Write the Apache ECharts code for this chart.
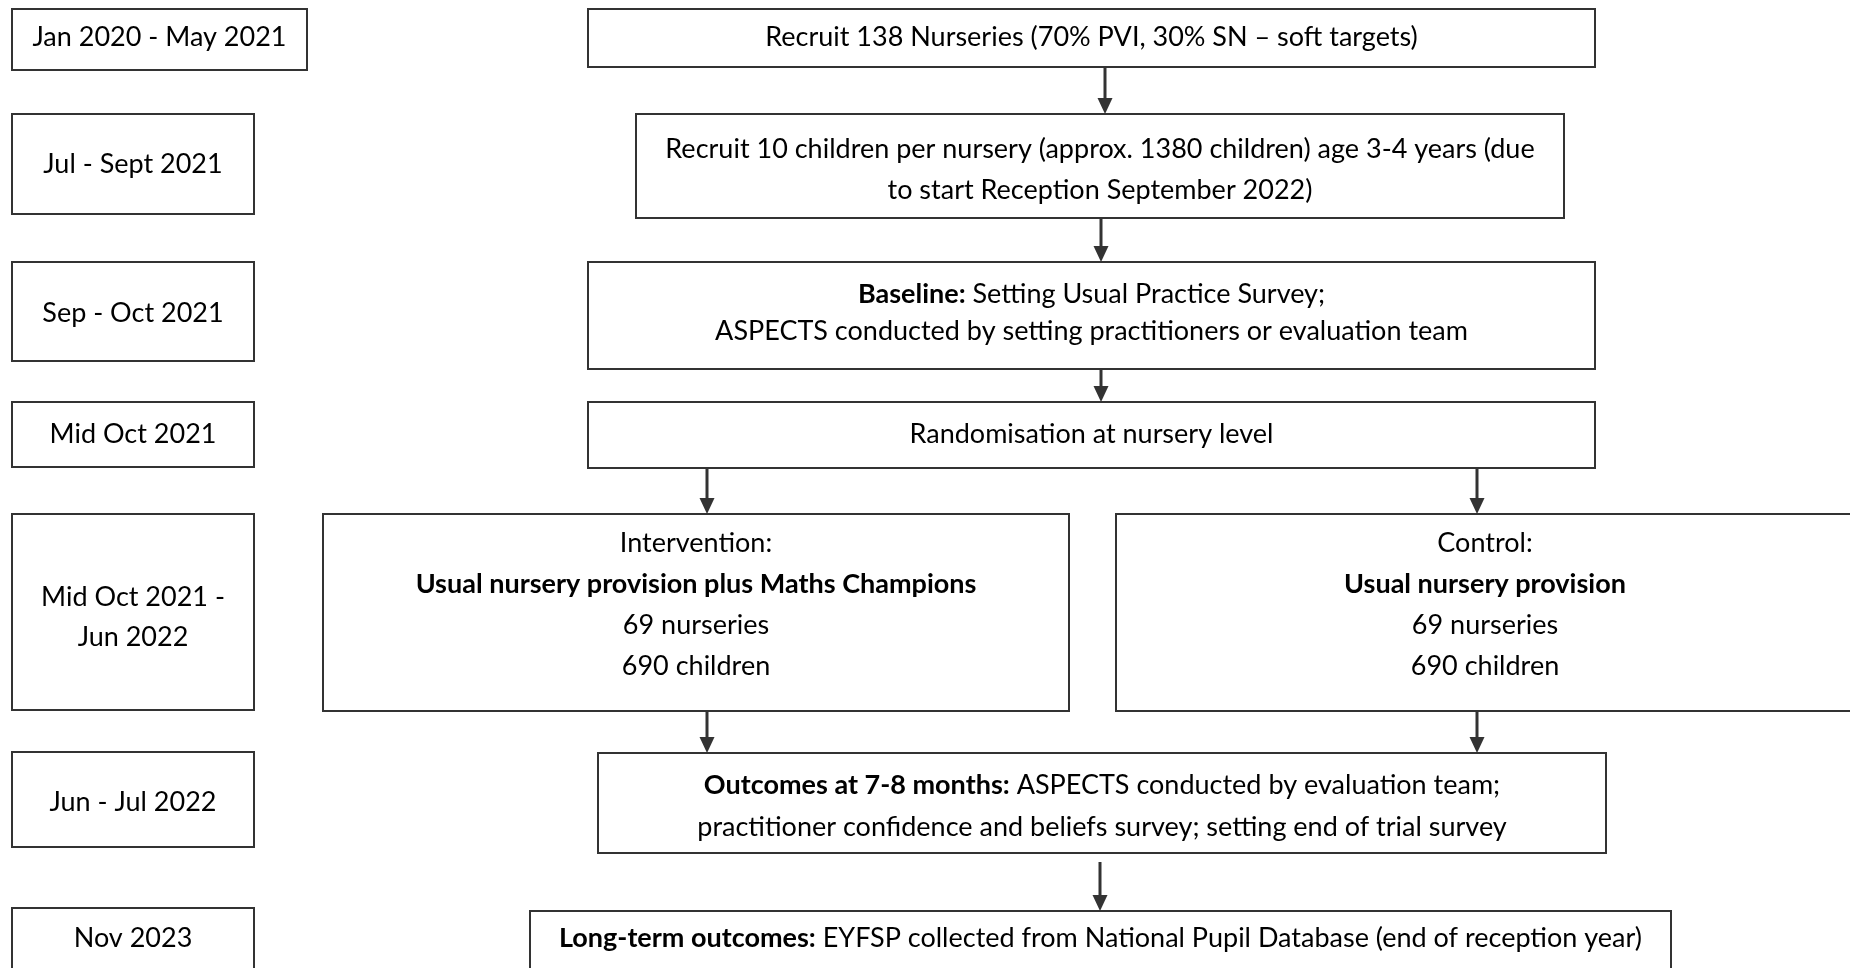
<!DOCTYPE html>
<html>
<head>
<meta charset="utf-8">
<script src="https://cdn.jsdelivr.net/npm/echarts@6/dist/echarts.min.js"></script>
<style>
html, body { margin: 0; padding: 0; background: #fff; }
#chart { width: 1850px; height: 968px; }
</style>
</head>
<body>
<div id="chart"></div>
<script>
// timeline labels (left column)
var periodLabels = [
    'Jan 2020 - May 2021',
    'Jul - Sept 2021',
    'Sep - Oct 2021',
    'Mid Oct 2021',
    'Mid Oct 2021 -\nJun 2022',
    'Jun - Jul 2022',
    'Nov 2023'
];

// flow steps ({b|...} = bold part)
var stepLabels = [
    'Recruit 138 Nurseries (70% PVI, 30% SN – soft targets)',
    'Recruit 10 children per nursery (approx. 1380 children) age 3-4 years (due\nto start Reception September 2022)',
    '{b|Baseline:} Setting Usual Practice Survey;\nASPECTS conducted by setting practitioners or evaluation team',
    'Randomisation at nursery level',
    'Intervention:\n{b|Usual nursery provision plus Maths Champions}\n69 nurseries\n690 children',
    'Control:\n{b|Usual nursery provision}\n69 nurseries\n690 children',
    '{b|Outcomes at 7-8 months:} ASPECTS conducted by evaluation team;\npractitioner confidence and beliefs survey; setting end of trial survey',
    '{b|Long-term outcomes:} EYFSP collected from National Pupil Database (end of reception year)'
];

// layout: [x0, y0, x1, y1, textY, lineHeight] in page pixels
var periodBoxes = [
    [12, 9, 307, 70, 37, 40],
    [12, 114, 254, 214, 164, 40],
    [12, 262, 254, 361, 313, 40],
    [12, 402, 254, 467, 434, 40],
    [12, 514, 254, 710, 617, 40],
    [12, 752, 254, 847, 802, 40],
    [12, 908, 254, 970, 938, 40]
];
var stepBoxes = [
    [588, 9, 1595, 67, 37, 41],
    [636, 114, 1564, 218, 170, 41],
    [588, 262, 1595, 369, 313, 37],
    [588, 402, 1595, 468, 434, 41],
    [323, 514, 1069, 711, 605, 41],
    [1116, 514, 1854, 711, 605, 41],
    [598, 753, 1606, 853, 806, 42],
    [530, 911, 1671, 970, 938, 41]
];
// arrows: [x, yStart, yEnd]
var arrows = [
    [1105, 67, 114],
    [1101, 218, 262],
    [1101, 369, 402],
    [707, 468, 514],
    [1477, 468, 514],
    [707, 711, 753],
    [1477, 711, 753],
    [1100, 862, 911]
];

var FONT = 'Lato';
var FONT_SIZE = 27;
var LINE = '#333';

function boxData(boxes) {
    var out = [];
    for (var i = 0; i < boxes.length; i++) {
        out.push(boxes[i].concat([i]));
    }
    return out;
}

function renderBox(labels) {
    return function (params, api) {
        var p0 = api.coord([api.value(0), api.value(1)]);
        var p1 = api.coord([api.value(2), api.value(3)]);
        var ty = api.coord([0, api.value(4)])[1];
        var lh = api.value(5);
        var txt = labels[api.value(6)];
        return {
            type: 'group',
            children: [
                {
                    type: 'rect',
                    shape: { x: p0[0], y: p0[1], width: p1[0] - p0[0], height: p1[1] - p0[1] },
                    style: { fill: '#fff', stroke: LINE, lineWidth: 2 }
                },
                {
                    type: 'text',
                    style: {
                        x: (p0[0] + p1[0]) / 2,
                        y: ty,
                        text: txt,
                        align: 'center',
                        verticalAlign: 'middle',
                        fill: '#000',
                        fontFamily: FONT,
                        fontSize: FONT_SIZE,
                        lineHeight: lh,
                        rich: {
                            b: { fontFamily: FONT, fontSize: FONT_SIZE, fontWeight: 'bold', fill: '#000', lineHeight: lh }
                        }
                    }
                }
            ]
        };
    };
}

function renderArrow(params, api) {
    var a = api.coord([api.value(0), api.value(1)]);
    var b = api.coord([api.value(0), api.value(2)]);
    var hw = 7.5, hh = 16;
    return {
        type: 'group',
        children: [
            {
                type: 'line',
                shape: { x1: a[0], y1: a[1], x2: b[0], y2: b[1] - hh + 1 },
                style: { stroke: LINE, lineWidth: 3 }
            },
            {
                type: 'polygon',
                shape: { points: [[b[0] - hw, b[1] - hh], [b[0] + hw, b[1] - hh], [b[0], b[1]]] },
                style: { fill: LINE }
            }
        ]
    };
}

var chart = echarts.init(document.getElementById('chart'));
var option = {
    backgroundColor: '#fff',
    animation: false,
    grid: { left: 0, right: 0, top: 0, bottom: 0 },
    xAxis: { type: 'value', min: 0, max: 1850, show: false },
    yAxis: { type: 'value', min: 0, max: 968, inverse: true, show: false },
    series: [
        {
            type: 'custom',
            clip: false,
            renderItem: renderBox(periodLabels),
            data: boxData(periodBoxes)
        },
        {
            type: 'custom',
            clip: false,
            renderItem: renderBox(stepLabels),
            data: boxData(stepBoxes)
        },
        {
            type: 'custom',
            clip: false,
            renderItem: renderArrow,
            data: arrows
        }
    ]
};
chart.setOption(option);
window.addEventListener('resize', function () {
    chart.resize();
});
</script>
</body>
</html>
